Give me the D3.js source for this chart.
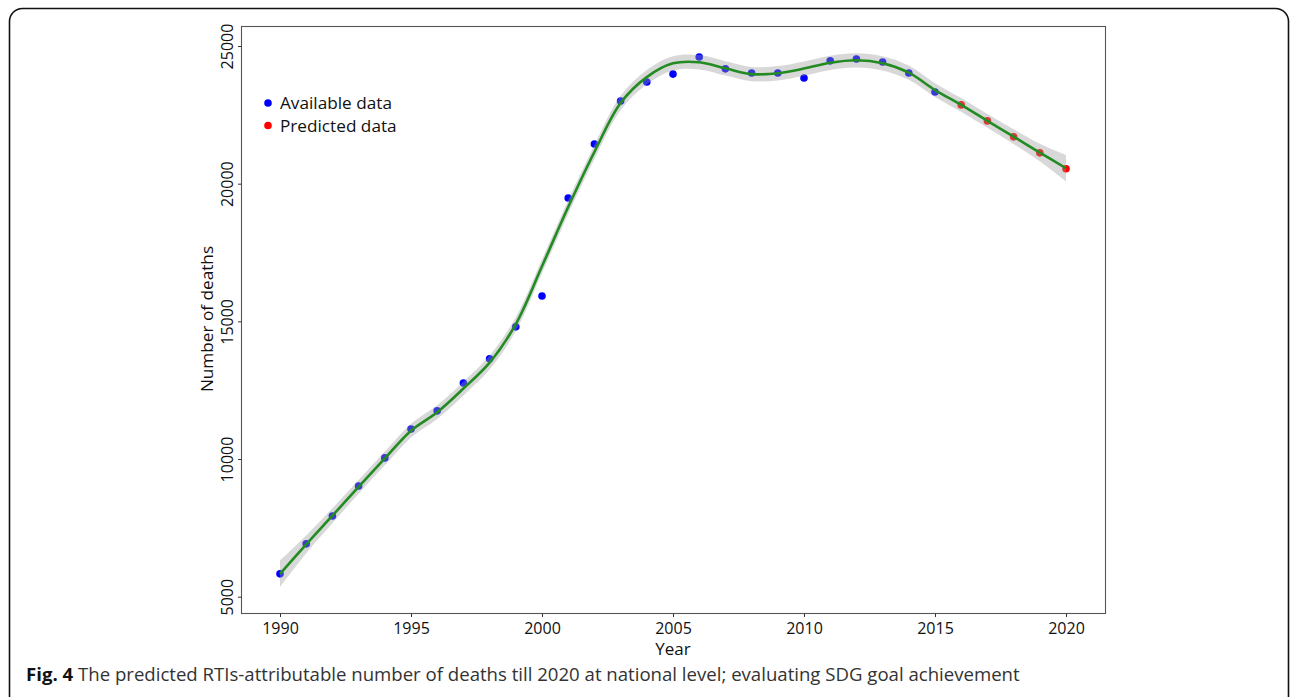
<!DOCTYPE html>
<html>
<head>
<meta charset="utf-8">
<script src="https://cdn.jsdelivr.net/npm/d3@7"></script>
<style>
  html, body { margin: 0; padding: 0; background: #fff; }
  svg { display: block; }
  text { font-family: "Open Sans", "Noto Sans", sans-serif; }
</style>
</head>
<body>
<svg id="chart" width="1290" height="697"></svg>
<script>
// ---- data ----
const years = [1990,1991,1992,1993,1994,1995,1996,1997,1998,1999,2000,2001,2002,2003,2004,2005,2006,2007,2008,2009,2010,2011,2012,2013,2014,2015,2016,2017,2018,2019,2020];
const deaths = [5830,6920,7930,9020,10040,11090,11750,12760,13640,14800,15920,19480,21440,23000,23690,23980,24600,24170,24020,24020,23840,24460,24530,24420,24020,23330,22860,22280,21700,21120,20540];
const dataType = ["Available data","Available data","Available data","Available data","Available data","Available data","Available data","Available data","Available data","Available data","Available data","Available data","Available data","Available data","Available data","Available data","Available data","Available data","Available data","Available data","Available data","Available data","Available data","Available data","Available data","Available data","Predicted data","Predicted data","Predicted data","Predicted data","Predicted data"];
const fitted = [5830,6900,7940,8990,10020,11030,11700,12560,13500,14900,17000,19150,21150,22930,23870,24370,24410,24190,23980,24010,24180,24390,24480,24370,24030,23400,22860,22280,21710,21130,20560];
const bandHalf = [480,320,270,250,250,250,250,250,250,250,250,250,250,260,260,260,260,260,260,260,260,260,260,260,260,250,250,250,270,320,480];
const legendLabels = ["Available data","Predicted data"];
const legendColors = ["#0000ff","#ff0000"];
const xTicks = [1990,1995,2000,2005,2010,2015,2020];
const yTicks = [5000,10000,15000,20000,25000];
const captionBold = "Fig. 4";
const captionText = " The predicted RTIs-attributable number of deaths till 2020 at national level; evaluating SDG goal achievement";

const svg = d3.select("#chart");

// outer rounded frame
svg.append("rect")
  .attr("x", 9.5).attr("y", 8.5)
  .attr("width", 1279).attr("height", 720)
  .attr("rx", 13).attr("ry", 13)
  .attr("fill", "none").attr("stroke", "#111").attr("stroke-width", 1.6);

// panel
const panel = {left: 241.5, top: 26.5, right: 1105.5, bottom: 613.5};
const x = d3.scaleLinear().domain([1990, 2020]).range([280, 1066]);
const y = d3.scaleLinear().domain([5000, 25000]).range([596.7, 46]);

const color = d3.scaleOrdinal().domain(legendLabels).range(legendColors);

const rows = years.map((yr, i) => ({yr, v: deaths[i], t: dataType[i], f: fitted[i], h: bandHalf[i]}));

// points (drawn under ribbon as in ggplot layer order)
svg.append("g").selectAll("circle").data(rows).join("circle")
  .attr("cx", d => x(d.yr)).attr("cy", d => y(d.v)).attr("r", 3.8)
  .attr("fill", d => color(d.t));

const curve = d3.curveCatmullRom.alpha(0.5);
// ribbon
svg.append("path").datum(rows)
  .attr("d", d3.area().x(d => x(d.yr)).y0(d => y(d.f - d.h)).y1(d => y(d.f + d.h)).curve(curve))
  .attr("fill", "#999999").attr("fill-opacity", 0.38);
// fitted line
svg.append("path").datum(rows)
  .attr("d", d3.line().x(d => x(d.yr)).y(d => y(d.f)).curve(curve))
  .attr("fill", "none").attr("stroke", "#228b22").attr("stroke-width", 2.6);

// panel border
svg.append("rect")
  .attr("x", panel.left).attr("y", panel.top)
  .attr("width", panel.right - panel.left).attr("height", panel.bottom - panel.top)
  .attr("fill", "none").attr("stroke", "#555").attr("stroke-width", 1.1);

// x axis
const xAxis = svg.append("g").attr("transform", `translate(0,${panel.bottom})`)
  .call(d3.axisBottom(x).tickValues(xTicks).tickFormat(d3.format("d")).tickSize(3.5).tickPadding(6));
xAxis.select(".domain").remove();
xAxis.selectAll("line").attr("stroke", "#333");
xAxis.selectAll("text").attr("font-size", 16).attr("fill", "#111").attr("font-family", "Open Sans");

// y axis
const yAxis = svg.append("g").attr("transform", `translate(${panel.left},0)`)
  .call(d3.axisLeft(y).tickValues(yTicks).tickFormat(d3.format("d")).tickSize(3.5));
yAxis.select(".domain").remove();
yAxis.selectAll("line").attr("stroke", "#333");
yAxis.selectAll("text")
  .attr("font-size", 16).attr("fill", "#111").attr("font-family", "Open Sans")
  .attr("x", null).attr("dy", null)
  .attr("text-anchor", "middle")
  .attr("transform", "translate(-9,0) rotate(-90)");

// axis titles
svg.append("text").attr("x", 673).attr("y", 655)
  .attr("text-anchor", "middle").attr("font-size", 17).attr("fill", "#111").text("Year");
svg.append("text").attr("transform", "translate(213,319) rotate(-90)")
  .attr("text-anchor", "middle").attr("font-size", 17.2).attr("fill", "#111").text("Number of deaths");

// legend
const leg = svg.append("g");
legendLabels.forEach((lab, i) => {
  leg.append("circle").attr("cx", 268).attr("cy", 103 + i * 22.5).attr("r", 3.8).attr("fill", legendColors[i]);
  leg.append("text").attr("x", 280).attr("y", 109 + i * 22.5)
    .attr("font-size", 17.2).attr("fill", "#111").text(lab);
});

// caption
const cap = svg.append("text").attr("x", 26).attr("y", 681).attr("font-size", 18.6).attr("fill", "#333");
cap.append("tspan").attr("font-weight", "bold").attr("fill", "#111").text(captionBold);
cap.append("tspan").text(captionText);
</script>
</body>
</html>
